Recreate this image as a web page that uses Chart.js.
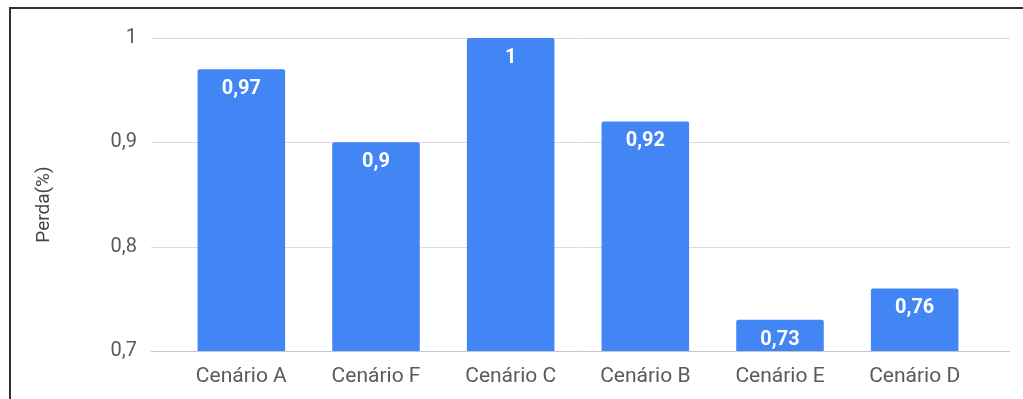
<!DOCTYPE html>
<html>
<head>
<meta charset="utf-8">
<script src="https://cdn.jsdelivr.net/npm/chart.js@4"></script>
<style>
  html, body { margin: 0; padding: 0; background: #fff; }
  #wrap { position: relative; width: 1023px; height: 399px; overflow: hidden; }
  #frame { position: absolute; left: 9px; top: 7px; width: 1100px; height: 500px;
           border-top: 2px solid #333; border-left: 2px solid #333; }
  canvas { position: absolute; left: 0; top: 0; }
</style>
</head>
<body>
<div id="wrap">
  <div id="frame"></div>
  <canvas id="chart" width="1023" height="399"></canvas>
</div>
<script>
const categories = ['Cenário A', 'Cenário F', 'Cenário C', 'Cenário B', 'Cenário E', 'Cenário D'];
const perda = [0.97, 0.9, 1, 0.92, 0.73, 0.76];
const yTickLabels = ['0,7', '0,8', '0,9', '1'];
const yTitle = 'Perda(%)';

const fmt = v => String(Math.round(v * 100) / 100).replace('.', ',');
const FONT = 'Roboto, "Noto Sans", sans-serif';

// grid lines in the reference run a bit past the first/last bar slots
const gridLines = {
  id: 'gridLines',
  beforeDatasetsDraw(chart) {
    const { ctx, chartArea, scales: { y } } = chart;
    ctx.save();
    y.ticks.forEach(t => {
      const py = Math.round(y.getPixelForValue(t.value)) + 0.5;
      ctx.strokeStyle = t.value === 0.7 ? '#c6c6c6' : '#dcdcdc';
      ctx.lineWidth = 1;
      ctx.beginPath();
      ctx.moveTo(chartArea.left - 23, py);
      ctx.lineTo(chartArea.right + 28, py);
      ctx.stroke();
    });
    ctx.restore();
  }
};

const barLabels = {
  id: 'barLabels',
  afterDatasetsDraw(chart) {
    const { ctx, chartArea } = chart;
    const meta = chart.getDatasetMeta(0);
    ctx.save();
    ctx.fillStyle = '#fff';
    ctx.font = 'bold 20px ' + FONT;
    ctx.textAlign = 'center';
    ctx.textBaseline = 'middle';
    meta.data.forEach((bar, i) => {
      ctx.fillText(fmt(perda[i]), bar.x, bar.y + 20);
    });
    // axis title sits a little below the plot centre in the reference
    ctx.fillStyle = '#444';
    ctx.font = '19px ' + FONT;
    ctx.translate(44, (chartArea.top + chartArea.bottom) / 2 + 10);
    ctx.rotate(-Math.PI / 2);
    ctx.fillText(yTitle, 0, 0);
    ctx.restore();
  }
};

new Chart(document.getElementById('chart'), {
  type: 'bar',
  data: {
    labels: categories,
    datasets: [{
      data: perda,
      backgroundColor: '#4285f4',
      borderRadius: 2,
      borderSkipped: 'bottom',
      categoryPercentage: 1,
      barPercentage: 0.65,
    }],
  },
  options: {
    responsive: false,
    animation: false,
    events: [],
    layout: { padding: { top: 38, right: 41, bottom: 0, left: 0 } },
    plugins: { legend: { display: false }, tooltip: { enabled: false } },
    scales: {
      x: {
        grid: { display: false, drawTicks: false },
        border: { display: false },
        ticks: { color: '#5a5a5a', font: { family: FONT, size: 21 }, padding: 13, maxRotation: 0 },
        afterFit: s => { s.height = 48; },
      },
      y: {
        min: 0.7,
        max: 1,
        grid: { display: false, drawTicks: false },
        border: { display: false },
        ticks: {
          stepSize: 0.1,
          padding: 37,
          color: '#5a5a5a',
          font: { family: FONT, size: 20 },
          callback: (v, i) => yTickLabels[i],
        },
        afterFit: s => { s.width = 174; s.paddingTop = 0; s.paddingBottom = 0; },
      },
    },
  },
  plugins: [gridLines, barLabels],
});
</script>
</body>
</html>
